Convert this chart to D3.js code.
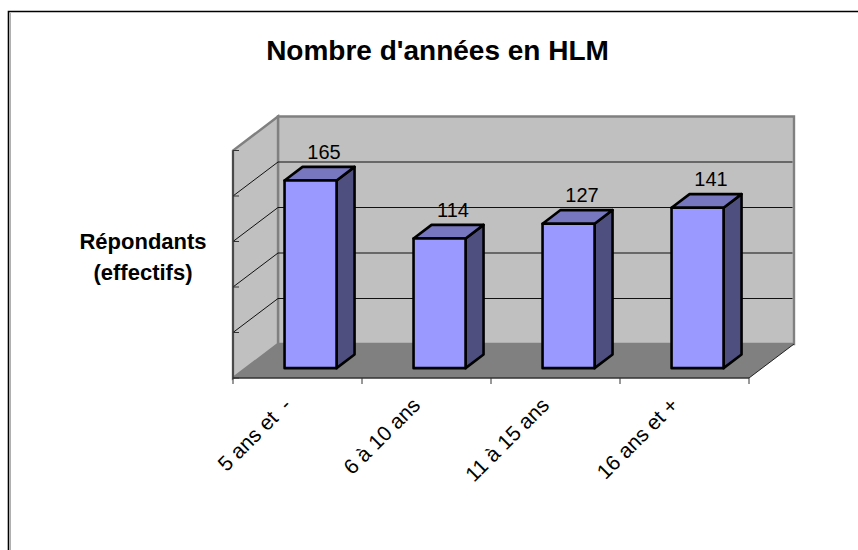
<!DOCTYPE html>
<html lang="fr">
<head>
  <meta charset="UTF-8" />
  <title>Nombre d'années en HLM</title>
  <script src="https://d3js.org/d3.v7.min.js"></script>
  <style>
    html, body { margin: 0; padding: 0; background: #fff; overflow: hidden; }
    text { font-family: 'Liberation Sans', Arial, sans-serif; fill: #000; }
  </style>
</head>
<body>
  <div id="chart"></div>

  <script>
    const categories = ["5 ans et  -", "6 à 10 ans", "11 à 15 ans", "16 ans et +"];
    const values = [165, 114, 127, 141];
    const gridValues = [0, 40, 80, 120, 160, 200];

    const width = 858;
    const height = 550;

    const svg = d3.select("#chart").append("svg")
      .attr("width", width)
      .attr("height", height);

    // front plane of the 3D box
    const x = d3.scaleBand().domain(categories).range([233, 749]);
    const y = d3.scaleLinear().domain([0, 200]).range([378, 150.5]);

    // depth goes from 0 (front) to 1 (back wall)
    const depthX = d3.scaleLinear().domain([0, 1]).range([0, 45]);
    const depthY = d3.scaleLinear().domain([0, 1]).range([0, -34]);
    const pt = (px, py, d) => [px + depthX(d), py + depthY(d)];
    const poly = pts => "M" + pts.map(p => p.join(",")).join("L") + "Z";

    const x0 = x.range()[0], x1 = x.range()[1];
    const yBase = y(0), yTop = y(200);

    // frame
    svg.append("line").attr("x1", 10.5).attr("x2", 10.5).attr("y1", 13).attr("y2", height)
      .attr("stroke", "#b0b0b0").attr("stroke-width", 1);
    svg.append("path").attr("d", `M8.5,${height}V11.5H${width}`)
      .attr("fill", "none").attr("stroke", "#000").attr("stroke-width", 1.6);

    // walls
    svg.append("path")
      .attr("d", poly([pt(x0, yBase, 1), pt(x0, yTop, 1), pt(x1, yTop, 1), pt(x1, yBase, 1)]))
      .attr("fill", "#c0c0c0").attr("stroke", "#808080").attr("stroke-width", 2.4);
    svg.append("path")
      .attr("d", poly([pt(x0, yBase, 0), pt(x0, yTop, 0), pt(x0, yTop, 1), pt(x0, yBase, 1)]))
      .attr("fill", "#c0c0c0").attr("stroke", "#808080").attr("stroke-width", 2.4);
    svg.append("path")
      .attr("d", poly([pt(x0, yBase, 0), pt(x1, yBase, 0), pt(x1, yBase, 1), pt(x0, yBase, 1)]))
      .attr("fill", "#808080");

    // gridlines on the side and back walls
    const inner = gridValues.slice(1, -1);
    svg.append("g").selectAll("path").data(inner).enter().append("path")
      .attr("d", d => {
        const a = pt(x0, y(d), 0), b = pt(x0, y(d), 1), c = pt(x1, y(d), 1);
        return `M${a}L${b}L${c[0] - 1.5},${c[1]}`;
      })
      .attr("fill", "none").attr("stroke", "#111").attr("stroke-width", 1);

    // axes
    const axes = svg.append("g").attr("fill", "none");
    axes.append("path").attr("d", `M${x0},${yTop}V${yBase}H${x1}`).attr("stroke", "#333").attr("stroke-width", 1.4);
    axes.append("path").attr("d", `M${x1},${yBase}L${pt(x1, yBase, 1)}`).attr("stroke", "#222");
    axes.selectAll(".ytick").data(gridValues).enter().append("line")
      .attr("x1", x0).attr("x2", x0 + 6)
      .attr("y1", d => y(d)).attr("y2", d => y(d))
      .attr("stroke", "#333");
    axes.selectAll(".xtick").data(categories.concat([null])).enter().append("line")
      .attr("x1", d => d === null ? x1 : x(d)).attr("x2", d => d === null ? x1 : x(d))
      .attr("y1", yBase).attr("y2", yBase + 6)
      .attr("stroke", "#333");

    // bars: front, top and side faces
    const dFront = 0.29, dBack = 0.69;
    const barW = 52;
    const barX = c => x(c) + (x.bandwidth() - barW) / 2;
    const rows = categories.map((c, i) => ({ c, v: values[i] }));

    const bars = svg.append("g").selectAll("g").data(rows).enter().append("g")
      .attr("stroke", "#000").attr("stroke-width", 2.6).attr("stroke-linejoin", "round");

    bars.append("path").attr("fill", "#4f4f7f").attr("d", d => {
      const r = barX(d.c) + barW;
      return poly([pt(r, y(0), dFront), pt(r, y(d.v), dFront), pt(r, y(d.v), dBack), pt(r, y(0), dBack)]);
    });
    bars.append("path").attr("fill", "#7777bf").attr("d", d => {
      const l = barX(d.c), r = l + barW;
      return poly([pt(l, y(d.v), dFront), pt(r, y(d.v), dFront), pt(r, y(d.v), dBack), pt(l, y(d.v), dBack)]);
    });
    bars.append("path").attr("fill", "#9999ff").attr("d", d => {
      const l = barX(d.c), r = l + barW;
      return poly([pt(l, y(0), dFront), pt(r, y(0), dFront), pt(r, y(d.v), dFront), pt(l, y(d.v), dFront)]);
    });

    // value labels
    svg.append("g").selectAll("text").data(rows).enter().append("text")
      .attr("x", d => barX(d.c) + barW / 2 + depthX(dFront) + 13.5)
      .attr("y", d => y(d.v) + depthY(dBack) - 8)
      .attr("text-anchor", "middle")
      .attr("font-size", 20)
      .text(d => d.v);

    // category labels
    svg.append("g").selectAll("text").data(categories).enter().append("text")
      .attr("text-anchor", "end")
      .attr("transform", c => `translate(${x(c) + x.bandwidth() / 2 - 5},${yBase + 28.5}) rotate(-45)`)
      .attr("font-size", 21)
      .style("white-space", "pre")
      .text(c => c);

    // titles
    svg.append("text").attr("x", 437.5).attr("y", 60)
      .attr("text-anchor", "middle").attr("font-size", 28).attr("font-weight", "bold")
      .text("Nombre d'années en HLM");
    svg.append("text").attr("x", 143).attr("y", 249)
      .attr("text-anchor", "middle").attr("font-size", 22).attr("font-weight", "bold")
      .text("Répondants");
    svg.append("text").attr("x", 143).attr("y", 280)
      .attr("text-anchor", "middle").attr("font-size", 22).attr("font-weight", "bold")
      .text("(effectifs)");
  </script>
</body>
</html>
